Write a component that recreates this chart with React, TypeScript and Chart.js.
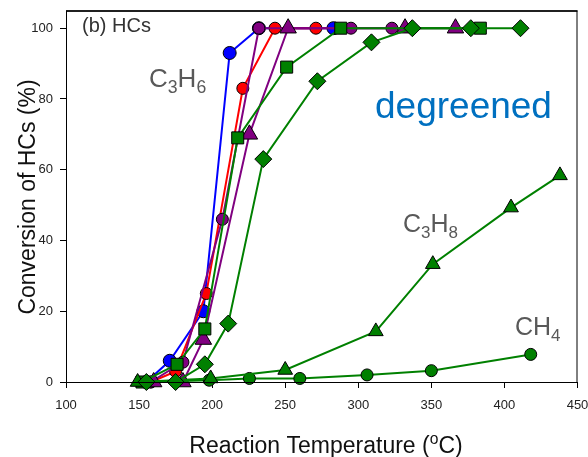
import React, { useEffect, useRef } from 'react';
import { Chart, registerables } from 'chart.js';
Chart.register(...registerables);

const xTicks = [100, 150, 200, 250, 300, 350, 400, 450];
const yTicks = [0, 20, 40, 60, 80, 100];

// C3H6 conversion, several catalysts
const blueT = [155, 171, 194, 212, 232, 283];
const blueY = [0, 6, 20, 93, 100, 100];
const redT = [158, 175, 196, 221, 243, 271];
const redY = [0, 3, 25, 83, 100, 100];
const purpleCircT = [158, 180, 207, 232, 295, 323];
const purpleCircY = [0, 5.6, 46, 100, 100, 100];
const purpleTriT = [160, 180, 194, 225.5, 252, 332, 366.5];
const purpleTriY = [0, 0, 12, 70, 100, 100, 100];
const greenSqT = [152, 176, 195, 217.5, 251, 288, 383.5];
const greenSqY = [0, 5, 15, 69, 89, 100, 100];
// degreened catalyst
const c3h6T = [155, 175, 195, 211, 235, 272, 309, 337, 377, 411];
const c3h6Y = [0, 0, 5, 16.5, 63, 85, 96, 100, 100, 100];
const c3h8T = [149, 199, 250, 312, 351, 404.5, 438];
const c3h8Y = [0, 1, 3.4, 14.3, 33.3, 49.3, 58.4];
const ch4T = [155, 198, 225.5, 260, 306, 350, 418];
const ch4Y = [0, 0.5, 1, 1, 2, 3.2, 7.8];

const FONT = "Arial, 'Liberation Sans', sans-serif";

function pts(t: number[], y: number[]) {
  return t.map((x, i) => ({ x, y: y[i] }));
}

type Part = { t: string; sub?: boolean; sup?: boolean };

function measureRich(ctx: CanvasRenderingContext2D, parts: Part[], size: number) {
  let w = 0;
  for (const p of parts) {
    const s = p.sub || p.sup ? size * 0.68 : size;
    ctx.font = `${s}px ${FONT}`;
    w += ctx.measureText(p.t).width;
  }
  return w;
}

function drawRich(ctx: CanvasRenderingContext2D, parts: Part[], x: number, y: number, size: number, color: string, align: 'left' | 'center' = 'left') {
  ctx.save();
  ctx.fillStyle = color;
  ctx.textBaseline = 'alphabetic';
  ctx.textAlign = 'left';
  let cx = x;
  if (align === 'center') cx = x - measureRich(ctx, parts, size) / 2;
  for (const p of parts) {
    const s = p.sub || p.sup ? size * 0.68 : size;
    ctx.font = `${s}px ${FONT}`;
    let dy = 0;
    if (p.sub) dy = size * 0.22;
    if (p.sup) dy = -size * 0.4;
    ctx.fillText(p.t, cx, y + dy);
    cx += ctx.measureText(p.t).width;
  }
  ctx.restore();
}

const decorPlugin = {
  id: 'decor',
  afterDraw(chart: any) {
    const ctx: CanvasRenderingContext2D = chart.ctx;
    const a = chart.chartArea;
    ctx.save();
    ctx.strokeStyle = '#000';
    ctx.lineWidth = 1;
    ctx.strokeRect(a.left + 0.5, a.top + 0.5, a.right - a.left - 1, a.bottom - a.top);
    ctx.lineWidth = 1.5;
    ctx.beginPath();
    ctx.moveTo(a.left, a.top + 0.5);
    ctx.lineTo(a.right, a.top + 0.5);
    ctx.stroke();
    ctx.restore();

    drawRich(ctx, [{ t: '(b) HCs' }], 82, 32, 20, '#333');
    drawRich(ctx, [{ t: 'C' }, { t: '3', sub: true }, { t: 'H' }, { t: '6', sub: true }], 149, 87, 26, '#595959');
    drawRich(ctx, [{ t: 'degreened' }], 375, 118, 37, '#0070C0');
    drawRich(ctx, [{ t: 'C' }, { t: '3', sub: true }, { t: 'H' }, { t: '8', sub: true }], 403, 232, 25, '#595959');
    drawRich(ctx, [{ t: 'CH' }, { t: '4', sub: true }], 515, 335, 25, '#595959');

    drawRich(ctx, [{ t: 'Reaction Temperature (' }, { t: 'o', sup: true }, { t: 'C)' }], 326, 453, 23, '#111', 'center');
    ctx.save();
    ctx.translate(35, 197);
    ctx.rotate(-Math.PI / 2);
    drawRich(ctx, [{ t: 'Conversion of HCs (%)' }], 0, 0, 23, '#111', 'center');
    ctx.restore();
  },
};

function ds(label: string, t: number[], y: number[], color: string, style: string, r: number) {
  return {
    label,
    data: pts(t, y),
    borderColor: color,
    backgroundColor: color,
    borderWidth: 2,
    pointStyle: style,
    pointRadius: r,
    pointHoverRadius: r,
    pointBackgroundColor: color,
    pointBorderColor: '#000',
    pointBorderWidth: 1,
    tension: 0,
    clip: false as any,
  };
}

export default function App() {
  const ref = useRef<HTMLCanvasElement>(null);
  useEffect(() => {
    const canvas = ref.current!;
    const chart = new Chart(canvas, {
      type: 'line',
      data: {
        datasets: [
          ds('C3H6 degreened', c3h6T, c3h6Y, '#008000', 'rectRot', 8.5),
          ds('C3H8', c3h8T, c3h8Y, '#008000', 'triangle', 8.5),
          ds('CH4', ch4T, ch4Y, '#008000', 'circle', 6),
          ds('green sq', greenSqT, greenSqY, '#008000', 'rect', 8.5),
          ds('purple tri', purpleTriT, purpleTriY, '#800080', 'triangle', 9.5),
          ds('purple circ', purpleCircT, purpleCircY, '#800080', 'circle', 6),
          ds('red', redT, redY, '#FF0000', 'circle', 6),
          ds('blue', blueT, blueY, '#0000FF', 'circle', 6.5),
        ] as any,
      },
      options: {
        responsive: false,
        animation: false,
        events: [],
        layout: { padding: { top: 8, right: 9, left: 0, bottom: 0 } },
        plugins: { legend: { display: false }, tooltip: { enabled: false } },
        scales: {
          x: {
            type: 'linear',
            min: 100,
            max: 450,
            afterBuildTicks: (s: any) => { s.ticks = xTicks.map((v) => ({ value: v })); },
            afterFit: (s: any) => { s.height = 75; s.paddingLeft = 0; s.paddingRight = 0; },
            ticks: { color: '#222', font: { size: 13, family: FONT }, padding: 10, maxRotation: 0, autoSkip: false },
            grid: { display: true, drawOnChartArea: false, drawTicks: true, tickLength: 6, color: '#000' },
            border: { display: false },
          },
          y: {
            type: 'linear',
            min: 0,
            max: 105,
            afterBuildTicks: (s: any) => { s.ticks = yTicks.map((v) => ({ value: v })); },
            afterFit: (s: any) => { s.width = 66; s.paddingTop = 0; s.paddingBottom = 0; },
            ticks: { color: '#222', font: { size: 13, family: FONT }, padding: 7, autoSkip: false },
            grid: { display: true, drawOnChartArea: false, drawTicks: true, tickLength: 6, color: '#000' },
            border: { display: false },
          },
        },
      } as any,
      plugins: [decorPlugin],
    });
    return () => chart.destroy();
  }, []);
  return (
    <div style={{ position: 'fixed', left: 0, top: 0, width: 588, height: 457, background: '#fff' }}>
      <canvas ref={ref} width={588} height={457} style={{ width: 588, height: 457, display: 'block' }} />
    </div>
  );
}
